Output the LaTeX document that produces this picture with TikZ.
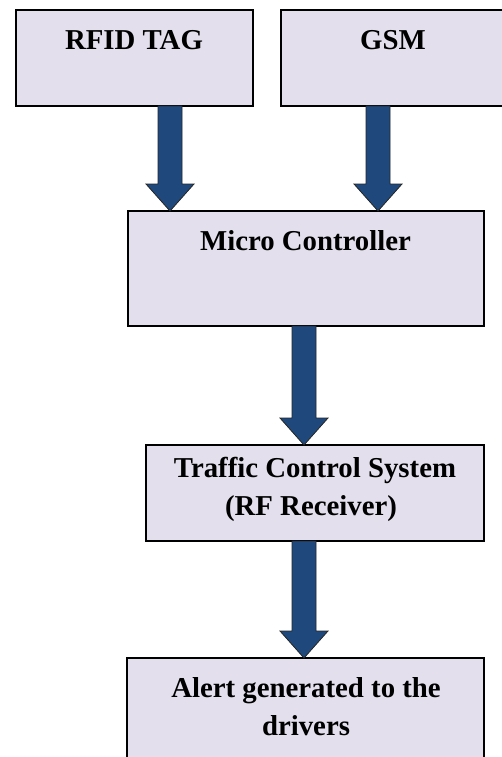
\documentclass[tikz,border=0pt]{standalone}
\usepackage{fontspec}
\setmainfont{Liberation Serif}
\usetikzlibrary{calc}
\definecolor{boxfill}{RGB}{228,223,236}
\definecolor{arrowblue}{RGB}{31,73,125}
\begin{document}
\begin{tikzpicture}[x=1pt,y=-1pt,
  box/.style={draw=black, line width=1.5pt, fill=boxfill, inner sep=0pt, outer sep=0pt},
  boxtext/.style={font=\bfseries\fontsize{28.8}{34}\selectfont, anchor=base, inner sep=0pt, outer sep=0pt},
  blockarrow/.style={draw=black!85, line width=0.8pt, fill=arrowblue,
    to path={let \p1=(\tikztostart), \p2=(\tikztotarget) in
      (\x1-12pt,\y1) -- (\x1-12pt,\y2+27pt) -- (\x1-24pt,\y2+27pt) -- (\x2,\y2)
      -- (\x1+24pt,\y2+27pt) -- (\x1+12pt,\y2+27pt) -- (\x1+12pt,\y1) -- cycle}}]
\useasboundingbox (0,0) rectangle (502,757);
\clip (0,0) rectangle (502,757);
\fill[white] (0,0) rectangle (502,757);

\node[box, minimum width=237pt, minimum height=96pt] (rfid) at (134.5,58) {};
\node[box, minimum width=224pt, minimum height=96pt] (gsm) at (393,58) {};
\node[box, minimum width=356pt, minimum height=115pt] (micro) at (306,268.5) {};
\node[box, minimum width=338pt, minimum height=96pt] (traffic) at (315,493) {};
\node[box, minimum width=357pt, minimum height=110pt] (alert) at (305.5,713) {};

\node[boxtext] (trfid) at (134,50) {RFID TAG};
\node[boxtext] (tgsm) at (393,50) {GSM};
\node[boxtext] (tmicro) at (305.5,250) {Micro Controller};
\node[boxtext] (ttraffic1) at (315,477) {Traffic Control System};
\node[boxtext] (ttraffic2) at (311,515) {(RF Receiver)};
\node[boxtext] (talert1) at (306,697) {Alert generated to the};
\node[boxtext] (talert2) at (306,735) {drivers};

\coordinate (ax1) at (170,0);
\coordinate (ax2) at (378,0);
\coordinate (ax3) at (304,0);

\draw[blockarrow] (rfid.south -| ax1) to (micro.north -| ax1);
\draw[blockarrow] (gsm.south -| ax2) to (micro.north -| ax2);
\draw[blockarrow] (micro.south -| ax3) to (traffic.north -| ax3);
\draw[blockarrow] (traffic.south -| ax3) to (alert.north -| ax3);
\end{tikzpicture}
\end{document}
